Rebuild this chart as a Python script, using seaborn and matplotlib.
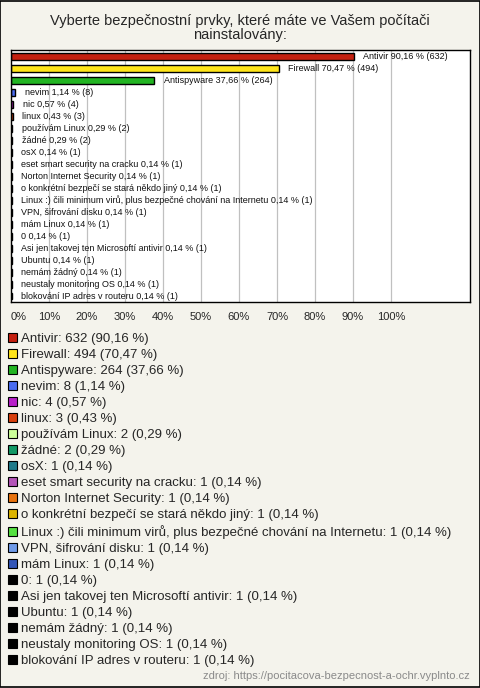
import matplotlib
matplotlib.use("Agg")
import matplotlib.pyplot as plt
from matplotlib.patches import Patch
import seaborn as sns

# data
names = [
    "Antivir", "Firewall", "Antispyware", "nevim", "nic", "linux",
    "používám Linux", "žádné", "osX", "eset smart security na cracku",
    "Norton Internet Security", "o konkrétní bezpečí se stará někdo jiný",
    "Linux :) čili minimum virů, plus bezpečné chování na Internetu",
    "VPN, šifrování disku", "mám Linux", "0",
    "Asi jen takovej ten Microsoftí antivir", "Ubuntu", "nemám žádný",
    "neustaly monitoring OS", "blokování IP adres v routeru",
]
counts = [632, 494, 264, 8, 4, 3, 2, 2, 1, 1, 1, 1, 1, 1, 1, 1, 1, 1, 1, 1, 1]
percents = [90.16, 70.47, 37.66, 1.14, 0.57, 0.43, 0.29, 0.29, 0.14, 0.14,
            0.14, 0.14, 0.14, 0.14, 0.14, 0.14, 0.14, 0.14, 0.14, 0.14, 0.14]
colors = [
    "#c42010", "#ffe51a", "#22b422", "#4a6cf0", "#b820c8", "#d8400e",
    "#ccff99", "#119966", "#1f7a8a", "#b455b8", "#e8730f", "#dcb400",
    "#55e040", "#6f9ae8", "#3356b8", "#000000", "#000000", "#000000",
    "#000000", "#000000", "#000000",
]
title = "Vyberte bezpečnostní prvky, které máte ve Vašem počítači\nnainstalovány:"
source = "zdroj: https://pocitacova-bezpecnost-a-ochr.vyplnto.cz"


def fmt(v):
    return f"{v:.2f}".replace(".", ",")


sns.set_style("white")
plt.rcParams["font.family"] = ["Liberation Sans", "DejaVu Sans"]

BG = "#f4f3ec"
fig = plt.figure(figsize=(4.8, 6.88), dpi=100, facecolor=BG)
ax = fig.add_axes([11 / 480, 1 - 302 / 688, 459 / 480, 252 / 688])
ax.set_facecolor("white")

sns.barplot(x=percents, y=names, hue=names, palette=colors, legend=False,
            orient="h", width=0.58, edgecolor="black", linewidth=1.0,
            saturation=1, ax=ax)

for i, (n, p, c) in enumerate(zip(names, percents, counts)):
    ax.annotate(f"{n} {fmt(p)} % ({c})", xy=(p, i), xytext=(7, 0),
                textcoords="offset points", va="center", ha="left",
                fontsize=6.5, color="#111111")

ax.set_xlim(0, 120.8)
ax.set_ylim(20.5, -0.56)
ax.set_xticks(range(0, 101, 10))
ax.set_xticklabels([f"{t}%" for t in range(0, 101, 10)], fontsize=8)
ax.get_xticklabels()[0].set_ha("left")
ax.tick_params(axis="x", length=0, pad=7)
ax.set_yticks([])
ax.set_xlabel("")
ax.set_ylabel("")
for t in range(10, 101, 10):
    ax.axvline(t, color="#c0c0c0", linewidth=0.9, zorder=0)
for s in ax.spines.values():
    s.set_color("black")
    s.set_linewidth(1.0)

fig.text(0.5, 1 - 28 / 688, title, ha="center", va="center",
         fontsize=10.5, linespacing=1.0)

handles = [Patch(facecolor=c, edgecolor="black", linewidth=0.8) for c in colors]
labels = [f"{n}: {c} ({fmt(p)} %)" for n, c, p in zip(names, counts, percents)]
fig.legend(handles, labels, loc="upper left",
           bbox_to_anchor=(3 / 480, 1 - 328 / 688), frameon=False,
           fontsize=9.5, handlelength=0.65, handleheight=0.65,
           handletextpad=0.3, labelspacing=0.3, borderaxespad=0)

fig.text(470 / 480, 1 - 676 / 688, source, ha="right", va="center",
         fontsize=8, color="#8a8a8a")

fig.patches.append(plt.Rectangle((0.001, 0.001), 0.998, 0.998,
                                 transform=fig.transFigure, fill=False,
                                 edgecolor="black", linewidth=1.2))

fig.savefig("out.png", dpi=100, facecolor=BG)
